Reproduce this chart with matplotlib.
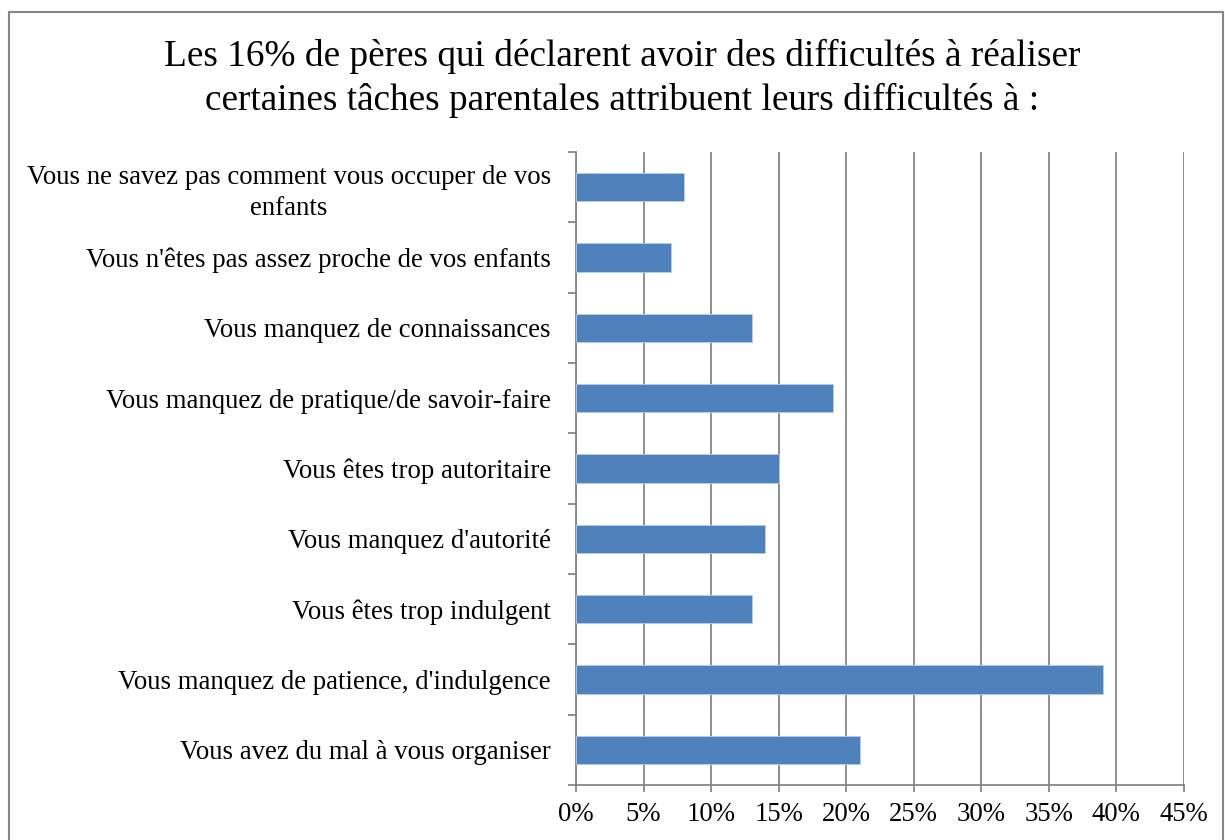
"""Horizontal bar chart: reasons given by fathers for difficulties with parental tasks."""
import matplotlib
matplotlib.use("Agg")
import matplotlib.pyplot as plt
from matplotlib.patches import Rectangle
from matplotlib.ticker import FuncFormatter

title = ("Les 16% de pères qui déclarent avoir des difficultés à réaliser\n"
         "certaines tâches parentales attribuent leurs difficultés à :")

categories = [
    "Vous ne savez pas comment vous occuper de vos\nenfants",
    "Vous n'êtes pas assez proche de vos enfants",
    "Vous manquez de connaissances",
    "Vous manquez de pratique/de savoir-faire",
    "Vous êtes trop autoritaire",
    "Vous manquez d'autorité",
    "Vous êtes trop indulgent",
    "Vous manquez de patience, d'indulgence",
    "Vous avez du mal à vous organiser",
]
values = [8, 7, 13, 19, 15, 14, 13, 39, 21]
xticks = list(range(0, 46, 5))

plt.rcParams["font.family"] = ["Liberation Serif", "DejaVu Serif"]
grey = "#868686"

fig = plt.figure(figsize=(12.25, 8.4), dpi=100)
ax = fig.add_axes([0.4702, 0.0655, 0.4963, 0.7535])

pos = list(range(len(categories)))
ax.barh(pos, values, height=0.4, color="#4F81BD", edgecolor="#B9CDE5", linewidth=0.6, zorder=3)
ax.set_ylim(len(categories) - 0.5, -0.5)
ax.set_xlim(0, 45)

ax.set_xticks(xticks)
ax.xaxis.set_major_formatter(FuncFormatter(lambda v, _: f"{v:.0f}%"))
ax.set_yticks(pos)
ax.set_yticklabels(categories, multialignment="center", linespacing=1.3)
ax.set_yticks([p - 0.5 for p in pos] + [len(pos) - 0.5], minor=True)

ax.tick_params(axis="y", which="major", length=0, pad=18, labelsize=19.3)
ax.tick_params(axis="y", which="minor", length=6, width=1.3, color=grey)
ax.tick_params(axis="x", length=5, width=1.3, color=grey, labelsize=19.3, pad=7)

ax.grid(axis="x", color=grey, linewidth=1.3, zorder=0)
for side in ("top", "right"):
    ax.spines[side].set_visible(False)
for side in ("left", "bottom"):
    ax.spines[side].set_color(grey)
    ax.spines[side].set_linewidth(1.3)

fig.text(0.508, 0.907, title, ha="center", va="center", fontsize=26.8, linespacing=1.32)

fig.patches.append(Rectangle((0.0075, -0.05), 0.9905, 1.036, transform=fig.transFigure,
                             fill=False, edgecolor=grey, linewidth=1.5))

fig.savefig("out.png", dpi=100)
